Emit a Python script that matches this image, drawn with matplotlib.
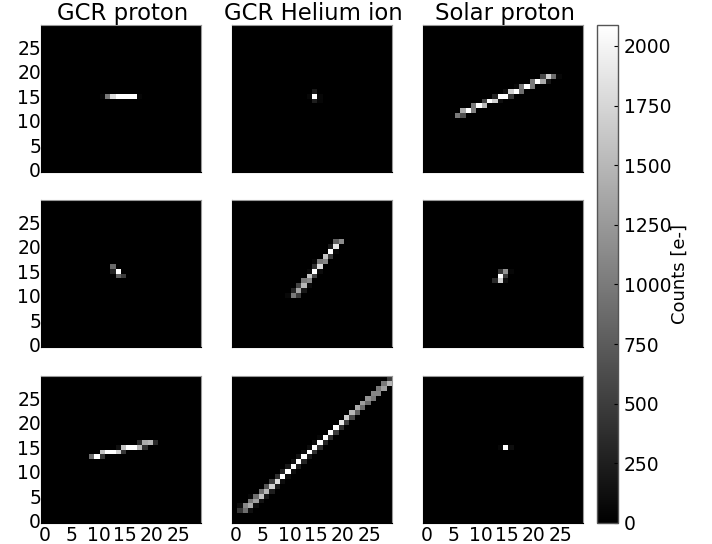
import numpy as np
import matplotlib
matplotlib.use("Agg")
import matplotlib.pyplot as plt
from matplotlib.transforms import ScaledTranslation

titles = ["GCR proton", "GCR Helium ion", "Solar proton"]
ticks = [0, 5, 10, 15, 20, 25]
cbar_ticks = [0, 250, 500, 750, 1000, 1250, 1500, 1750, 2000]
vmax = 2088
background = 8

# each hit: (row, col, counts)
hit_a1 = [(15,11,60),(15,12,1000),(15,13,1800),(15,14,2088),(15,15,2088),(15,16,2088),(15,17,2088),(15,18,50)]
hit_a2 = [(16,13,850),(15,13,300),(15,14,2088),(14,14,800),(14,15,500)]
hit_a3 = [(13,9,900),(13,10,2088),(13,11,450),(14,11,1600),(14,12,2088),(14,13,2088),(14,14,1700),(14,15,450),
          (15,14,130),(15,15,1600),(15,16,2088),(15,17,2088),(15,18,1500),(15,19,400),(16,18,350),(16,19,1400),(16,20,1500),(16,21,350)]
hit_b1 = [(16,15,200),(15,15,2088),(15,14,60),(15,16,60),(14,15,250),(14,16,50)]
hit_b2 = [(21,19,800),(21,20,1150),(20,18,200),(20,19,1900),(19,18,2088),(19,19,60),(18,17,1600),(18,18,500),
          (17,15,60),(17,16,1000),(17,17,1100),(16,15,400),(16,16,1800),(15,14,80),(15,15,2088),(15,16,100),
          (14,14,1600),(14,15,550),(13,13,1000),(13,14,1100),(12,12,550),(12,13,1500),(12,14,100),
          (11,11,300),(11,12,1350),(11,13,200),(10,10,70),(10,11,1000),(10,12,500)]
hit_c1 = [(11,6,1000),(11,7,650),(12,7,1400),(12,8,2088),(12,9,1050),(13,9,1000),(13,10,2088),(13,11,1500),
          (14,11,550),(14,12,2088),(14,13,1700),(14,14,120),(15,13,300),(15,14,2088),(15,15,2088),(15,16,450),
          (16,15,130),(16,16,1700),(16,17,2088),(16,18,900),(17,17,70),(17,18,1000),(17,19,2088),(17,20,1000),
          (18,20,1000),(18,21,2088),(18,22,1400),(18,23,200),(19,22,600),(19,23,1700),(19,24,900),(19,25,60)]
hit_c2 = [(15,14,450),(15,15,1200),(15,16,60),(14,14,2088),(14,15,500),(13,13,350),(13,14,1700),(13,15,120)]
hit_c3 = [(15,14,60),(15,15,2088),(15,16,120)]
diag_main = [(2,2,900),(3,3,1400),(4,4,1300),(5,5,1600),(6,6,1500),(7,7,1700),(8,8,1800),(9,9,2088),(10,10,2088),
             (11,11,2088),(12,12,2088),(13,13,2088),(14,14,2088),(15,15,2088),(16,16,2088),(17,17,2088),(18,18,2088),
             (19,19,2088),(20,20,1900),(21,21,1700),(22,22,1500),(23,23,1400),(24,24,1300),(25,25,1200),(26,26,1100),
             (27,27,1000),(28,28,1000),(29,29,500)]
diag_side = [(2,1,450),(2,3,130),(3,1,100),(3,2,1100),(3,4,120),(4,3,1000),(4,5,150),(5,3,60),(5,4,900),(5,6,200),
             (6,5,900),(6,7,250),(7,6,700),(7,8,200),(8,7,500),(8,9,100),(9,8,400),(9,10,100),(10,9,300),(10,11,100),
             (11,10,200),(11,12,250),(12,11,150),(12,13,300),(13,12,150),(13,14,200),(14,13,100),(14,15,400),
             (15,14,100),(15,16,400),(16,15,100),(16,17,300),(17,16,60),(17,18,400),(18,19,500),(19,20,400),
             (20,21,500),(21,22,600),(22,23,800),(23,24,900),(24,25,900),(25,26,1000),(26,27,1100),(27,28,1300),(28,29,1500)]
panels = [[hit_a1, hit_b1, hit_c1], [hit_a2, hit_b2, hit_c2], [hit_a3, diag_main + diag_side, hit_c3]]

W, H = 712, 544
fig = plt.figure(figsize=(W/100, H/100), dpi=100)
plt.rcParams["font.family"] = "DejaVu Sans"
FS = 13.5
lefts = [41, 232, 423]
tops = [25, 200, 376]
w, h = 160, 147
shift_x = ScaledTranslation(1.5/100, 0, fig.dpi_scale_trans)
im = None
for r in range(3):
    for c in range(3):
        ax = fig.add_axes([lefts[c]/W, 1-(tops[r]+h)/H, w/W, h/H])
        img = np.full((30, 30), float(background))
        for row, col, val in panels[r][c]:
            img[row, col] = val
        im = ax.imshow(img, cmap="gray", origin="lower", aspect="auto", vmin=0, vmax=vmax, interpolation="nearest")
        ax.set_xticks(ticks)
        ax.set_yticks(ticks)
        ax.tick_params(direction="in", length=3, color="black", labelsize=FS, pad=2,
                       labelleft=c == 0, labelbottom=r == 2, top=True, right=True)
        ax.tick_params(axis="y", pad=0)
        for lab in ax.get_xticklabels():
            lab.set_transform(lab.get_transform() + shift_x)
        ax.spines["top"].set_color("#999999")
        ax.spines["right"].set_color("#999999")
        ax.spines["left"].set_color("black")
        ax.spines["bottom"].set_color("black")
        for s in ax.spines.values():
            s.set_linewidth(0.8)
        if r == 0:
            t = ax.set_title(titles[c], fontsize=16.4, pad=-1)
            t.set_transform(t.get_transform() + shift_x)
cax = fig.add_axes([597/W, 1-523/H, 21/W, 498/H])
cb = fig.colorbar(im, cax=cax, ticks=cbar_ticks)
cb.ax.tick_params(direction="in", length=3, labelsize=FS, pad=4, color="black")
cb.outline.set_edgecolor("#555555")
cb.outline.set_linewidth(1.0)
cb.set_label("Counts [e-]", fontsize=13, labelpad=0)
fig.savefig("out.png", dpi=100)
